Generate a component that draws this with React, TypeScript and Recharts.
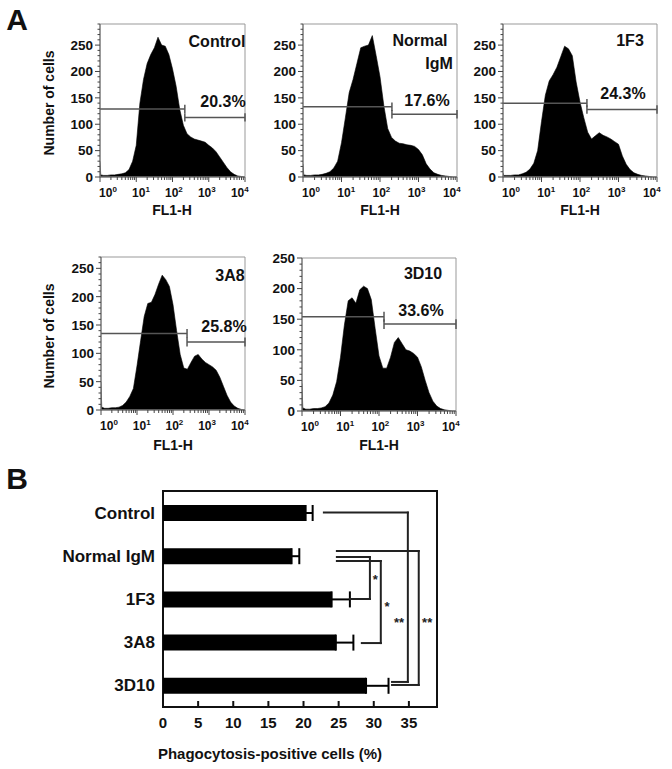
import React from "react";
import {
  Area,
  AreaChart,
  Bar,
  BarChart,
  ErrorBar,
  ReferenceArea,
  ReferenceDot,
  ReferenceLine,
  XAxis,
  YAxis,
} from "recharts";

// log10(FL1-H) bin positions shared by every histogram
const logBins = [
  0, 0.02, 0.1, 0.2, 0.3, 0.4, 0.5, 0.6, 0.7, 0.8, 0.9, 1.0, 1.1, 1.2, 1.3, 1.4,
  1.5, 1.6, 1.7, 1.8, 1.9, 2.0, 2.1, 2.2, 2.3, 2.4, 2.5, 2.6, 2.7, 2.8, 2.9, 3.0,
  3.1, 3.2, 3.3, 3.4, 3.5, 3.6, 3.7, 3.8, 3.9, 4.0,
];

const controlCounts = [
  30, 4, 3, 3, 4, 4, 5, 6, 8, 14, 30, 60, 140, 185, 215, 232, 245, 265, 250, 248,
  232, 205, 172, 128, 98, 82, 76, 72, 70, 68, 66, 60, 55, 48, 38, 28, 18, 10, 5, 2,
  1, 0,
];
const normalIgmCounts = [
  25, 4, 3, 3, 4, 4, 5, 7, 10, 17, 30, 65, 112, 160, 185, 215, 245, 248, 250, 268,
  230, 190, 135, 92, 75, 68, 64, 63, 61, 60, 58, 52, 42, 25, 15, 8, 5, 3, 2, 1, 0,
  0,
];
const f3Counts = [
  8, 3, 3, 3, 4, 4, 6, 9, 15, 26, 50, 105, 155, 182, 194, 208, 228, 248, 243, 230,
  180, 142, 112, 85, 72, 78, 84, 79, 76, 72, 67, 62, 40, 24, 14, 8, 5, 3, 2, 1, 0,
  0,
];
const a8Counts = [
  50, 5, 3, 3, 4, 4, 5, 8, 14, 24, 38, 78, 122, 165, 188, 190, 204, 222, 238, 230,
  218, 186, 140, 98, 74, 72, 84, 95, 98, 90, 84, 80, 76, 70, 58, 42, 26, 14, 7, 3,
  1, 0,
];
const d10Counts = [
  45, 5, 3, 3, 4, 4, 5, 7, 13, 26, 48, 88, 140, 180, 185, 176, 198, 204, 200, 182,
  135, 90, 70, 70, 88, 112, 120, 110, 100, 98, 94, 88, 72, 50, 30, 16, 8, 4, 2, 1,
  0, 0,
];

const decades = [0, 1, 2, 3, 4];
const minorSteps = [2, 3, 4, 5, 6, 7, 8, 9];
const logTicks = decades.flatMap((d) =>
  d < 4 ? [d, ...minorSteps.map((k) => d + Math.log10(k))] : [d]
);

// panel B
const groups = ["Control", "Normal IgM", "1F3", "3A8", "3D10"];
const positiveMean = [20.3, 18.3, 24.0, 24.6, 28.9];
const positiveErr = [1.0, 1.1, 2.6, 2.5, 3.2];
const pctTicks = [0, 5, 10, 15, 20, 25, 30, 35];

// significance brackets: [value, row index] corners
const brackets = [
  [[22.9, 0.0], [34.85, 0.0], [34.85, 3.92], [32.6, 3.92]],
  [[24.75, 0.89], [36.4, 0.89], [36.4, 3.99], [32.6, 3.99]],
  [[24.75, 1.03], [29.45, 1.03], [29.45, 2.0], [26.6, 2.0]],
  [[24.75, 1.12], [31.0, 1.12], [31.0, 3.02], [28.3, 3.02]],
];
const stars = [
  { x: 30.2, y: 1.55, text: "*" },
  { x: 31.9, y: 2.18, text: "*" },
  { x: 33.6, y: 2.55, text: "**" },
  { x: 37.6, y: 2.55, text: "**" },
];

const FONT = '"Liberation Sans", Arial, sans-serif';

function countTicks(max: number) {
  const t: number[] = [];
  for (let v = 0; v <= max; v += 10) t.push(v);
  return t;
}

function LogTick(props: any) {
  const { x, y, payload } = props;
  const v = payload.value;
  const major = Math.abs(v - Math.round(v)) < 1e-6;
  return (
    <g>
      <line x1={x} y1={y} x2={x} y2={y + (major ? 5 : 3)} stroke="#444" />
      {major && (
        <text x={x + 8 - 3.3 * v} y={y + 20} textAnchor="middle" fontSize={12} fontWeight="bold" fill="#111">
          10
          <tspan dy={-5} fontSize={8}>
            {Math.round(v)}
          </tspan>
        </text>
      )}
    </g>
  );
}

function CountTick(props: any) {
  const { x, y, payload } = props;
  const major = payload.value % 50 === 0;
  return (
    <g>
      <line x1={x} y1={y} x2={x - (major ? 5 : 2.5)} y2={y} stroke="#444" />
      {major && (
        <text x={x - 7} y={y} dy="0.36em" textAnchor="end" fontSize={13.5} fontWeight="bold" fill="#111">
          {payload.value}
        </text>
      )}
    </g>
  );
}

function PctTick(props: any) {
  const { x, y, payload } = props;
  return (
    <g>
      <line x1={x} y1={y} x2={x} y2={y - 6} stroke="#111" strokeWidth={2} />
      <text x={x} y={y + 21} textAnchor="middle" fontSize={15} fontWeight="bold" fill="#111">
        {payload.value}
      </text>
    </g>
  );
}

function Note({ x, y, size = 15, rotate = false, children }: any) {
  return (
    <div
      style={{
        position: "absolute",
        left: x,
        top: y,
        transform: `translate(-50%, -50%)${rotate ? " rotate(-90deg)" : ""}`,
        fontSize: size,
        fontWeight: "bold",
        lineHeight: 1,
        whiteSpace: "nowrap",
        color: "#111",
      }}
    >
      {children}
    </div>
  );
}

function Histogram({ counts, left, top, w, h, yMax, gateAt, gateL, gateR }: any) {
  const YW = 60;
  const TM = 10;
  const RM = 14;
  const XH = 30;
  const data = logBins.map((x, i) => ({ x, count: counts[i] }));
  const tk = 8;
  const gate = "#555";
  return (
    <div style={{ position: "absolute", left: left - YW, top: top - TM }}>
      <AreaChart
        width={YW + w + RM}
        height={TM + h + XH}
        data={data}
        margin={{ top: TM, right: RM, bottom: 0, left: 0 }}
      >
        <XAxis
          type="number"
          dataKey="x"
          domain={[0, 4]}
          ticks={logTicks}
          interval={0}
          height={XH}
          tickLine={false}
          tickSize={0}
          tickMargin={0}
          axisLine={{ stroke: "#666" }}
          tick={(p: any) => <LogTick {...p} />}
          allowDataOverflow
        />
        <YAxis
          type="number"
          domain={[0, yMax]}
          ticks={countTicks(yMax)}
          interval={0}
          width={YW}
          tickLine={false}
          tickSize={0}
          tickMargin={0}
          axisLine={{ stroke: "#666" }}
          tick={(p: any) => <CountTick {...p} />}
          allowDataOverflow
        />
        <Area
          type="linear"
          dataKey="count"
          stroke="#000"
          strokeWidth={0.6}
          fill="#000"
          fillOpacity={1}
          dot={false}
          activeDot={false}
          isAnimationActive={false}
        />
        <ReferenceArea x1={0} x2={4} y1={0} y2={yMax} fill="none" stroke="#999" strokeWidth={1} />
        <ReferenceLine segment={[{ x: 0, y: gateL }, { x: gateAt, y: gateL }]} stroke={gate} strokeWidth={1.5} />
        <ReferenceLine segment={[{ x: gateAt, y: gateL - tk }, { x: gateAt, y: gateL + tk }]} stroke={gate} strokeWidth={1.5} />
        <ReferenceLine segment={[{ x: gateAt, y: gateR }, { x: 4, y: gateR }]} stroke={gate} strokeWidth={1.5} />
        <ReferenceLine segment={[{ x: gateAt, y: gateR - tk }, { x: gateAt, y: gateR + tk }]} stroke={gate} strokeWidth={1.5} />
        <ReferenceLine segment={[{ x: 4, y: gateR - tk }, { x: 4, y: gateR + tk }]} stroke={gate} strokeWidth={1.5} />
      </AreaChart>
    </div>
  );
}

function PhagocytosisBars() {
  const rows = groups.map((name, i) => ({
    name,
    row: i,
    value: positiveMean[i],
    err: [0, positiveErr[i]],
  }));
  const YW = 163;
  const TM = 10;
  return (
    <div style={{ position: "absolute", left: 163 - YW, top: 491 - TM }}>
      <BarChart
        layout="vertical"
        width={YW + 274 + 20}
        height={TM + 216 + 30}
        data={rows}
        margin={{ top: TM, right: 20, bottom: 0, left: 0 }}
      >
        <XAxis
          type="number"
          domain={[0, 39]}
          ticks={pctTicks}
          interval={0}
          height={30}
          tickLine={false}
          tickSize={0}
          tickMargin={0}
          axisLine={false}
          tick={(p: any) => <PctTick {...p} />}
          allowDataOverflow
        />
        <YAxis
          type="category"
          dataKey="name"
          width={YW}
          tickLine={false}
          axisLine={false}
          tickSize={0}
          tickMargin={8}
          tick={{ fontSize: 17, fontWeight: "bold", fill: "#111" }}
        />
        <YAxis yAxisId="num" type="number" dataKey="row" domain={[-0.5, 4.5]} hide allowDataOverflow />
        <Bar dataKey="value" fill="#000" barSize={16} isAnimationActive={false}>
          <ErrorBar dataKey="err" direction="x" width={8} stroke="#000" strokeWidth={2} isAnimationActive={false} />
        </Bar>
        <ReferenceArea
          yAxisId="num"
          x1={0}
          x2={39}
          y1={-0.5}
          y2={4.5}
          fill="none"
          stroke="#111"
          strokeWidth={2}
          ifOverflow="visible"
        />
        {brackets.map((pts, i) =>
          pts.slice(1).map((p, j) => (
            <ReferenceLine
              key={`b${i}-${j}`}
              yAxisId="num"
              segment={[
                { x: pts[j][0], y: pts[j][1] },
                { x: p[0], y: p[1] },
              ]}
              stroke="#222"
              strokeWidth={2}
              strokeLinecap="square"
              ifOverflow="visible"
            />
          ))
        )}
        {stars.map((s, i) => (
          <ReferenceDot
            key={`s${i}`}
            yAxisId="num"
            x={s.x}
            y={s.y}
            r={1}
            fill="none"
            stroke="none"
            ifOverflow="visible"
            label={{ value: s.text, position: "center", fontSize: 13, fontWeight: "bold", fill: "#222" }}
          />
        ))}
      </BarChart>
    </div>
  );
}

export default function App() {
  return (
    <div
      style={{
        position: "absolute",
        left: 0,
        top: 0,
        width: 672,
        height: 769,
        background: "#fff",
        fontFamily: FONT,
        overflow: "hidden",
      }}
    >
      <Histogram counts={controlCounts} left={100} top={24} w={145} h={153} yMax={290} gateAt={2.34} gateL={129} gateR={113} />
      <Histogram counts={normalIgmCounts} left={303} top={24} w={154} h={153} yMax={290} gateAt={2.31} gateL={133} gateR={119} />
      <Histogram counts={f3Counts} left={503} top={24} w={154} h={153} yMax={290} gateAt={2.18} gateL={140} gateR={128} />
      <Histogram counts={a8Counts} left={101} top={257} w={144} h={153} yMax={270} gateAt={2.39} gateL={135} gateR={120} />
      <Histogram counts={d10Counts} left={302} top={258} w={154} h={153} yMax={250} gateAt={2.13} gateL={154} gateR={142} />
      <PhagocytosisBars />

      <Note x={17} y={20} size={30}>A</Note>
      <Note x={17} y={479} size={30}>B</Note>

      <Note x={49} y={103} size={14} rotate>Number of cells</Note>
      <Note x={49} y={336} size={14} rotate>Number of cells</Note>

      <Note x={172} y={210} size={14}>FL1-H</Note>
      <Note x={380} y={210} size={14}>FL1-H</Note>
      <Note x={580} y={210} size={14}>FL1-H</Note>
      <Note x={173} y={445} size={14}>FL1-H</Note>
      <Note x={379} y={445} size={14}>FL1-H</Note>

      <Note x={217} y={42} size={16}>Control</Note>
      <Note x={223} y={102} size={16}>20.3%</Note>
      <Note x={420} y={41} size={16}>Normal</Note>
      <Note x={439} y={64} size={16}>IgM</Note>
      <Note x={427} y={101} size={16}>17.6%</Note>
      <Note x={630} y={41} size={16}>1F3</Note>
      <Note x={623} y={94} size={16}>24.3%</Note>
      <Note x={230} y={276} size={16}>3A8</Note>
      <Note x={224} y={327} size={16}>25.8%</Note>
      <Note x={423} y={274} size={16}>3D10</Note>
      <Note x={421} y={311} size={16}>33.6%</Note>

      <Note x={270} y={753} size={15}>Phagocytosis-positive cells (%)</Note>
    </div>
  );
}
